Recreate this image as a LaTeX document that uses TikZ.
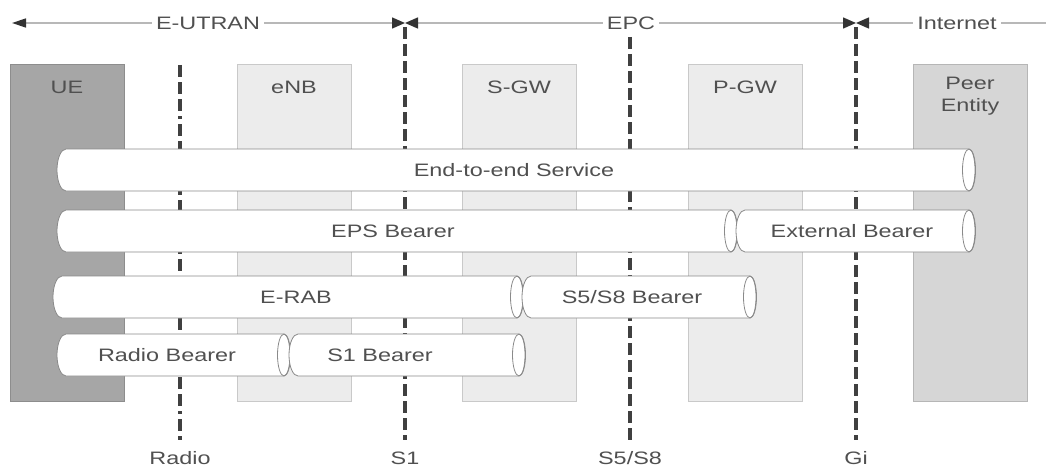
\documentclass[tikz,border=0pt]{standalone}
\usepackage{fontspec}
\setmainfont{Liberation Sans}[FakeStretch=1.3]
\usetikzlibrary{arrows.meta}
\definecolor{txt}{HTML}{505050}
\definecolor{uefill}{HTML}{A6A6A6}
\definecolor{peerfill}{HTML}{D6D6D6}
\definecolor{nodefill}{HTML}{ECECEC}
\definecolor{tubeedge}{HTML}{8A8A8A}
\newcommand\tube[3]{%
  \path[tubefill] (#1,#3+21) -- (#2,#3+21) arc[start angle=90,end angle=-90,x radius=6,y radius=21]
     -- (#1,#3-21) arc[start angle=-90,end angle=-270,x radius=9,y radius=21] -- cycle;
  \draw[tubeline] (#2,#3) ellipse[x radius=6.5,y radius=21];
}
\begin{document}
\begin{tikzpicture}[x=1pt,y=1pt,
  lbl/.style={font=\fontsize{18}{22}\selectfont, text=txt, inner sep=1pt},
  toplbl/.style={lbl, fill=white, inner xsep=4pt},
  netbox/.style={draw=#1!85!black, fill=#1, line width=0.8pt, anchor=south west,
     minimum width=114, minimum height=337, inner sep=0pt},
  sepline/.style={line width=4.5pt, black!75, dash pattern=on 12pt off 5pt},
  radline/.style={line width=4.5pt, black!75, dash pattern=on 12pt off 5pt on 12pt off 5pt on 12pt off 5pt on 3pt off 5pt},
  topline/.style={line width=1.4pt, black!28},
  tubefill/.style={fill=white, draw=tubeedge, line width=0.8pt},
  tubeline/.style={draw=tubeedge, line width=0.8pt}]
\useasboundingbox (0,0) rectangle (1048,467);

% network element boxes
\node[netbox=uefill] (ue) at (10,65) {};
\node[netbox=nodefill] (enb) at (237,65) {};
\node[netbox=nodefill] (sgw) at (462,65) {};
\node[netbox=nodefill] (pgw) at (688,65) {};
\node[netbox=peerfill] (peer) at (913,65) {};
\node[lbl] (uel) at (67,380) {UE};
\node[lbl] (enbl) at (294,380) {eNB};
\node[lbl] (sgwl) at (519,380) {S-GW};
\node[lbl] (pgwl) at (745,380) {P-GW};
\node[lbl, align=center] (peerl) at (970,371) {Peer\\Entity};

% top domain line
\coordinate (tl) at (12,444);
\coordinate (s1t) at (405,444);
\coordinate (git) at (856,444);
\coordinate (tr) at (1046,444);
\draw[topline, {Triangle[length=14pt,width=9pt,color=black!80]}-{Triangle[length=13pt,width=11pt,color=black!80]}] (tl) -- (s1t);
\draw[topline, {Triangle[length=13pt,width=11pt,color=black!80]}-{Triangle[length=13pt,width=11pt,color=black!80]}] (s1t) -- (git);
\draw[topline, {Triangle[length=13pt,width=11pt,color=black!80]}-] (git) -- (tr);
\node[toplbl] (eutran) at (208,444) {E-UTRAN};
\node[toplbl] (epc) at (631,444) {EPC};
\node[toplbl] (inet) at (957,444) {Internet};

% reference point lines
\coordinate (radt) at (180,402);
\coordinate (radb) at (180,27);
\coordinate (s1b) at (405,27);
\coordinate (s5t) at (630,430);
\coordinate (s5b) at (630,27);
\coordinate (gib) at (856,27);
\draw[radline] (radt) -- (radb);
\draw[sepline] ([yshift=-4pt]s1t) -- (s1b);
\draw[sepline] (s5t) -- (s5b);
\draw[sepline] ([yshift=-4pt]git) -- (gib);
\node[lbl] (radl) at (180,9) {Radio};
\node[lbl] (s1l) at (405,9) {S1};
\node[lbl] (s5l) at (630,9) {S5/S8};
\node[lbl] (gil) at (856,9) {Gi};

% bearers
\tube{66}{969}{297}
\node[lbl] (e2e) at (514,297) {End-to-end Service};
\tube{66}{731}{236}
\tube{745}{969}{236}
\node[lbl] (eps) at (393,236) {EPS Bearer};
\node[lbl] (ext) at (852,236) {External Bearer};
\tube{62}{517}{170}
\tube{531}{750}{170}
\node[lbl] (erab) at (296,170) {E-RAB};
\node[lbl] (s5br) at (632,170) {S5/S8 Bearer};
\tube{66}{284}{112}
\tube{298}{519}{112}
\node[lbl] (rb) at (167,112) {Radio Bearer};
\node[lbl] (s1br) at (380,112) {S1 Bearer};
\end{tikzpicture}
\end{document}
